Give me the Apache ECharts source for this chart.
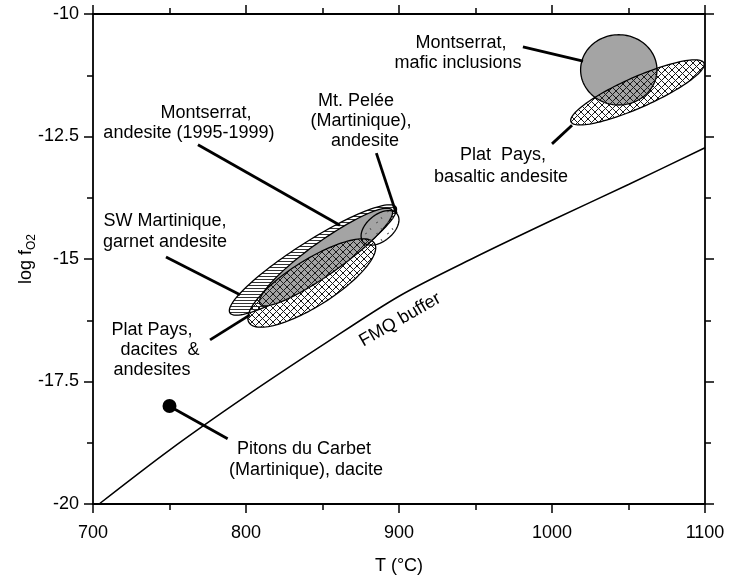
<!DOCTYPE html>
<html>
<head>
<meta charset="utf-8">
<script src="https://cdn.jsdelivr.net/npm/echarts@6/dist/echarts.min.js"></script>
<style>html,body{margin:0;background:#fff}#chart{width:729px;height:580px}</style>
</head>
<body>
<div id="chart"></div>
<script>
// FMQ buffer
var fmqT = [704, 750, 800, 850, 900, 950, 1000, 1050, 1100];
var fmqLogFO2 = [-20.0, -18.9, -17.8, -16.76, -15.76, -14.96, -14.21, -13.48, -12.73];

var pitonsCarbet = [750, -18];

// fields: ends of the long axis [T1, logfO2 1, T2, logfO2 2] + minor/major ratio
var swMartinique = [789.5, -16.10, 898.0, -13.94, 0.19];
var montserratAndesite = [809.2, -15.92, 895.4, -14.00, 0.2];
var platPaysDacite = [802.0, -16.30, 884.0, -14.68, 0.31];
var peleeAndesite = [876.5, -14.65, 898.7, -14.08, 0.6];
var montserratMafic = [1018.7, -11.14, 1068.6, -11.14, 0.92];
var platPaysBasalt = [1012.4, -12.20, 1099.3, -11.00, 0.21];

// leader lines [T1, y1, T2, y2]
var leaderLines = [
    [750.3, -18.01, 788.0, -18.67],
    [768.6, -12.67, 861.4, -14.31],
    [885.2, -12.84, 898.2, -14.07],
    [747.7, -14.96, 796.1, -15.73],
    [776.5, -16.65, 802.6, -16.14],
    [981.0, -10.67, 1020.3, -10.96],
    [1000.0, -12.65, 1013.1, -12.27]
];

var labelText = [
    'Montserrat,', 'andesite (1995-1999)',
    'Mt. Pelée', '(Martinique),', 'andesite',
    'SW Martinique,', 'garnet andesite',
    'Plat Pays,', 'dacites  &', 'andesites',
    'Pitons du Carbet', '(Martinique), dacite',
    'Montserrat,', 'mafic inclusions',
    'Plat  Pays,', 'basaltic andesite',
    'FMQ buffer'
];
var labelPos = [
    [773.9, -12.02], [762.7, -12.43],
    [871.9, -11.78], [875.2, -12.18], [877.8, -12.59],
    [747.1, -14.22], [747.1, -14.65],
    [738.6, -16.45], [743.8, -16.86], [738.6, -17.27],
    [837.9, -18.88], [839.2, -19.31],
    [940.5, -10.59], [938.6, -11.00],
    [968.0, -12.88], [966.7, -13.33],
    [900.7, -16.24]
];
var labelAngle = [0, 0, 0, 0, 0, 0, 0, 0, 0, 0, 0, 0, 0, 0, 0, 0, 30];

var FONT = 'Liberation Sans, Arial, Helvetica, sans-serif';

function makePattern(w, h, draw) {
    var c = document.createElement('canvas');
    c.width = w; c.height = h;
    draw(c.getContext('2d'));
    return {image: c, repeat: 'repeat'};
}
var crossHatch = makePattern(7, 7, function (ctx) {
    ctx.strokeStyle = '#1a1a1a'; ctx.lineWidth = 1;
    ctx.beginPath();
    ctx.moveTo(-1, -1); ctx.lineTo(8, 8);
    ctx.moveTo(8, -1); ctx.lineTo(-1, 8);
    ctx.stroke();
});
var stripes = makePattern(4, 3, function (ctx) {
    ctx.fillStyle = '#fff'; ctx.fillRect(0, 0, 4, 3);
    ctx.fillStyle = '#333'; ctx.fillRect(0, 0, 4, 1);
});
var specks = makePattern(11, 11, function (ctx) {
    ctx.strokeStyle = '#555'; ctx.lineWidth = 1;
    ctx.beginPath();
    ctx.moveTo(2, 3); ctx.lineTo(4, 2);
    ctx.moveTo(7, 8); ctx.lineTo(8, 10);
    ctx.stroke();
});
var GREY = '#a4a4a4';

function ellipseSeries(row, fill, z) {
    return {
        type: 'custom', data: [row], z: z, silent: true,
        renderItem: function (params, api) {
            var p1 = api.coord([api.value(0), api.value(1)]);
            var p2 = api.coord([api.value(2), api.value(3)]);
            var cx = (p1[0] + p2[0]) / 2, cy = (p1[1] + p2[1]) / 2;
            var dx = p2[0] - p1[0], dy = p2[1] - p1[1];
            var a = Math.sqrt(dx * dx + dy * dy) / 2, b = a * api.value(4);
            var th = Math.atan2(dy, dx);
            var pts = [];
            for (var i = 0; i < 120; i++) {
                var t = i / 120 * Math.PI * 2;
                pts.push([cx + a * Math.cos(t) * Math.cos(th) - b * Math.sin(t) * Math.sin(th),
                          cy + a * Math.cos(t) * Math.sin(th) + b * Math.sin(t) * Math.cos(th)]);
            }
            return {type: 'polygon', shape: {points: pts},
                    style: {fill: fill, stroke: '#000', lineWidth: 1.3}};
        }
    };
}

var tickStyle = {color: '#000', width: 1.5};
function valueAxis(opt) {
    var ax = {
        type: 'value',
        axisLine: {onZero: false, lineStyle: {color: '#000', width: 1.8}},
        axisTick: {length: 9, lineStyle: tickStyle},
        minorTick: {show: true, splitNumber: 2, length: 6, lineStyle: tickStyle},
        splitLine: {show: false},
        minorSplitLine: {show: false},
        axisLabel: {show: false}
    };
    for (var k in opt) ax[k] = opt[k];
    return ax;
}

var fmqData = fmqT.map(function (t, i) { return [t, fmqLogFO2[i]]; });

var myChart = echarts.init(document.getElementById('chart'));
myChart.setOption({
    animation: false,
    backgroundColor: '#fff',
    grid: {left: 93, right: 24, top: 14, bottom: 76, outerBoundsMode: 'none'},
    xAxis: [
        valueAxis({min: 700, max: 1100, interval: 100, position: 'bottom',
            name: 'T (°C)', nameLocation: 'middle', nameGap: 53,
            nameTextStyle: {color: '#000', fontSize: 18, fontFamily: FONT},
            axisLabel: {show: true, color: '#000', fontSize: 18, fontFamily: FONT, margin: 20,
                        formatter: function (v) { return String(v); }}}),
        valueAxis({min: 700, max: 1100, interval: 100, position: 'top'})
    ],
    yAxis: [
        valueAxis({min: -20, max: -10, interval: 2.5, position: 'left',
            name: 'log f{sub|O2}', nameLocation: 'middle', nameGap: 55, nameMoveOverlap: false,
            nameTextStyle: {color: '#000', fontSize: 18, fontFamily: FONT, lineHeight: 24,
                rich: {sub: {fontSize: 12, fontFamily: FONT, lineHeight: 12, verticalAlign: 'bottom'}}},
            axisLabel: {show: true, color: '#000', fontSize: 18, fontFamily: FONT, margin: 14}}),
        valueAxis({min: -20, max: -10, interval: 2.5, position: 'right'})
    ],
    series: [
        {type: 'line', data: fmqData, symbol: 'none', smooth: 0.3, z: 1,
         lineStyle: {color: '#000', width: 1.5}},
        ellipseSeries(swMartinique, stripes, 2),
        ellipseSeries(montserratAndesite, GREY, 3),
        ellipseSeries(platPaysDacite, crossHatch, 4),
        ellipseSeries(peleeAndesite, specks, 5),
        ellipseSeries(montserratMafic, GREY, 2),
        ellipseSeries(platPaysBasalt, crossHatch, 3),
        {type: 'custom', data: leaderLines, z: 6, silent: true,
         renderItem: function (params, api) {
             var p1 = api.coord([api.value(0), api.value(1)]);
             var p2 = api.coord([api.value(2), api.value(3)]);
             return {type: 'line', shape: {x1: p1[0], y1: p1[1], x2: p2[0], y2: p2[1]},
                     style: {stroke: '#000', lineWidth: 2.8}};
         }},
        {type: 'scatter', data: [pitonsCarbet], symbolSize: 14, z: 7,
         itemStyle: {color: '#000', opacity: 1}},
        {type: 'custom', data: labelPos, z: 8, silent: true, clip: false,
         renderItem: function (params, api) {
             var p = api.coord([api.value(0), api.value(1)]);
             return {type: 'text', x: p[0], y: p[1],
                     rotation: labelAngle[params.dataIndex] * Math.PI / 180,
                     style: {text: labelText[params.dataIndex], fill: '#000',
                             fontSize: 18, fontFamily: FONT,
                             align: 'center', verticalAlign: 'middle'}};
         }}
    ]
});
</script>
</body>
</html>
